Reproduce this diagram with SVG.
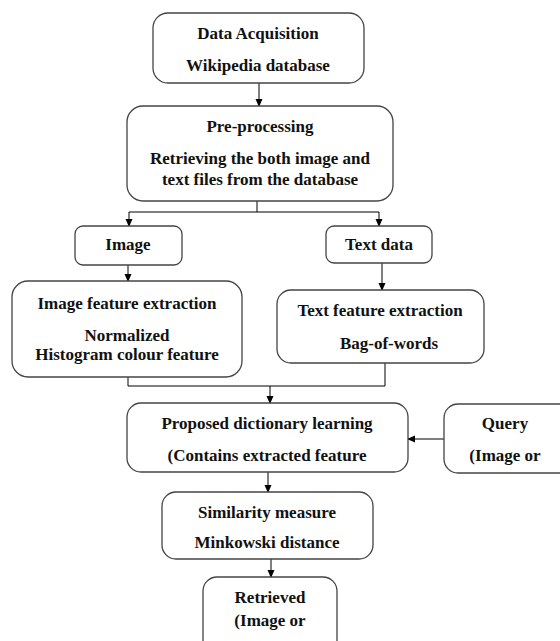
<svg xmlns="http://www.w3.org/2000/svg" width="560" height="641" viewBox="0 0 560 641">
<defs>
<style>
.box{fill:#fff;stroke:#444;stroke-width:1.3}
.t{font-family:"Liberation Serif","Times New Roman",serif;font-weight:bold;font-size:17px;fill:#111;text-anchor:middle}
.c{fill:none;stroke:#000;stroke-width:1}
</style>
<marker id="ah" markerWidth="8" markerHeight="8" refX="7" refY="4" orient="auto" markerUnits="userSpaceOnUse">
<path d="M0,0.5 L8,4 L0,7.5 Z" fill="#000"/>
</marker>
</defs>
<rect width="560" height="641" fill="#fff"/>
<g id="connectors">
<path class="c" d="M259,83 V106" marker-end="url(#ah)"/>
<path class="c" d="M257,201 V212 M129,212 H379"/>
<path class="c" d="M129,212 V226" marker-end="url(#ah)"/>
<path class="c" d="M379,212 V226" marker-end="url(#ah)"/>
<path class="c" d="M128,265 V281" marker-end="url(#ah)"/>
<path class="c" d="M382,263 V290" marker-end="url(#ah)"/>
<path class="c" d="M128,377 V386 H385 V363"/>
<path class="c" d="M270,386 V403" marker-end="url(#ah)"/>
<path class="c" d="M444,439 H408" marker-end="url(#ah)"/>
<path class="c" d="M268,472 V492" marker-end="url(#ah)"/>
<path class="c" d="M271,559 V577" marker-end="url(#ah)"/>
</g>
<g id="data-acquisition">
<rect class="box" x="153" y="13" width="211" height="70" rx="15"/>
<text class="t" x="258" y="39">Data Acquisition</text>
<text class="t" x="258" y="71">Wikipedia database</text>
</g>
<g id="pre-processing">
<rect class="box" x="127" y="106" width="266" height="95" rx="16"/>
<text class="t" x="260" y="132">Pre-processing</text>
<text class="t" x="260" y="164">Retrieving the both image and</text>
<text class="t" x="260" y="185">text files from the database</text>
</g>
<g id="image">
<rect class="box" x="75" y="226" width="107" height="39" rx="8"/>
<text class="t" x="128" y="250">Image</text>
</g>
<g id="text-data">
<rect class="box" x="326" y="226" width="106" height="37" rx="8"/>
<text class="t" x="379" y="250">Text data</text>
</g>
<g id="image-feature">
<rect class="box" x="12" y="281" width="230" height="96" rx="16"/>
<text class="t" x="127" y="309">Image feature extraction</text>
<text class="t" x="127" y="341">Normalized</text>
<text class="t" x="127" y="360">Histogram colour feature</text>
</g>
<g id="text-feature">
<rect class="box" x="277" y="290" width="207" height="73" rx="14"/>
<text class="t" x="380" y="316">Text feature extraction</text>
<text class="t" x="389" y="349">Bag-of-words</text>
</g>
<g id="dictionary">
<rect class="box" x="127" y="403" width="281" height="69" rx="14"/>
<text class="t" x="267" y="429">Proposed dictionary learning</text>
<text class="t" x="267" y="461">(Contains extracted feature</text>
</g>
<g id="query">
<rect class="box" x="444" y="404" width="130" height="69" rx="14"/>
<text class="t" x="505" y="429">Query</text>
<text class="t" x="505" y="461">(Image or</text>
</g>
<g id="similarity">
<rect class="box" x="162" y="492" width="211" height="67" rx="14"/>
<text class="t" x="267" y="518">Similarity measure</text>
<text class="t" x="267" y="548">Minkowski distance</text>
</g>
<g id="retrieved">
<rect class="box" x="203" y="577" width="134" height="80" rx="14"/>
<text class="t" x="270" y="603">Retrieved</text>
<text class="t" x="270" y="626">(Image or</text>
</g>
</svg>
